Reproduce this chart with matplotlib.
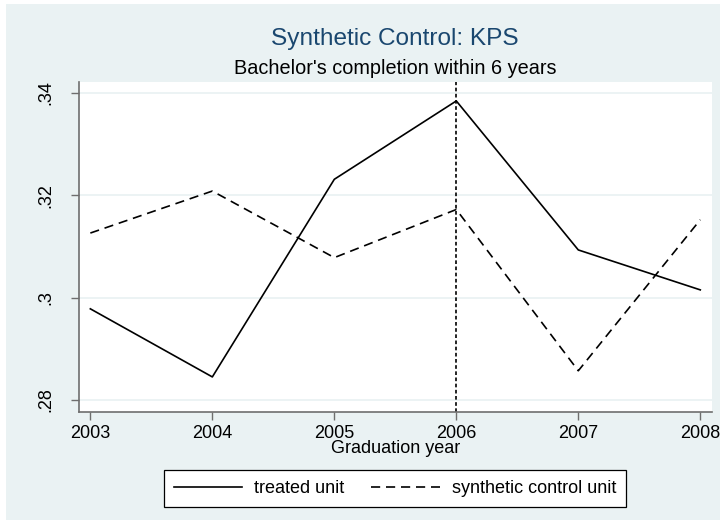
import matplotlib
matplotlib.use("Agg")
import matplotlib.pyplot as plt
from matplotlib.patches import Rectangle

plt.rcParams['font.family'] = ['Liberation Sans', 'DejaVu Sans']

years = [2003, 2004, 2005, 2006, 2007, 2008]
treated = [0.2978, 0.2845, 0.3231, 0.3384, 0.3093, 0.3015]
synthetic = [0.3126, 0.3208, 0.3078, 0.3172, 0.2857, 0.3152]
ytick_vals = [0.28, 0.30, 0.32, 0.34]
ytick_labels = ['.28', '.3', '.32', '.34']
treat_year = 2006

bg = '#eaf2f3'
axis_col = '#6e6e6e'

fig = plt.figure(figsize=(7.26, 5.29), dpi=100)
fig.patch.set_facecolor('white')
# stata-style graph region, slightly inset from the edge
fig.patches.append(Rectangle((6 / 726, 9 / 529), 714 / 726, 516 / 529,
                             transform=fig.transFigure, facecolor=bg,
                             edgecolor='none', zorder=-10))

ax = fig.add_axes([79 / 726, 1 - 412 / 529, 633 / 726, 330 / 529])
ax.set_facecolor('white')

for v in ytick_vals:
    ax.axhline(v, color=bg, lw=1.3, zorder=0)

ax.plot(years, treated, color='black', lw=1.2, label='treated unit')
ax.plot(years, synthetic, color='black', lw=1.2, linestyle=(0, (5.5, 3.5)),
        label='synthetic control unit')
ax.axvline(treat_year, color='black', lw=1.2, linestyle=(0, (2.2, 1.5)))

ax.set_xlim(2002.907, 2008.096)
ax.set_ylim(0.27765, 0.3421)
ax.set_xticks(years)
ax.set_xticklabels([str(y) for y in years], fontsize=13)
ax.set_yticks(ytick_vals)
ax.set_yticklabels(ytick_labels, fontsize=13, rotation=90, va='center')

for side in ['top', 'right']:
    ax.spines[side].set_visible(False)
for side in ['left', 'bottom']:
    ax.spines[side].set_color(axis_col)
    ax.spines[side].set_linewidth(1.2)
ax.tick_params(axis='x', direction='out', length=6, width=1, color=axis_col, pad=3)
ax.tick_params(axis='y', direction='out', length=6, width=1, color=axis_col, pad=12)

ax.set_xlabel('Graduation year', fontsize=13, labelpad=-1)

fig.text(395 / 726, 1 - 39 / 529, 'Synthetic Control: KPS', fontsize=17.6,
         color='#1a476f', ha='center', va='center')
fig.text(395 / 726, 1 - 68 / 529, "Bachelor's completion within 6 years",
         fontsize=14.3, color='black', ha='center', va='center')

leg = fig.legend(loc='center', bbox_to_anchor=(395 / 726, 1 - 488.5 / 529),
                 ncol=2, fontsize=13, frameon=True, fancybox=False,
                 edgecolor='black', framealpha=1, handlelength=3.8,
                 handletextpad=0.65, columnspacing=1.5, borderpad=0.55)
leg.get_frame().set_linewidth(0.9)

fig.savefig('out.png', dpi=100, facecolor=fig.get_facecolor())
